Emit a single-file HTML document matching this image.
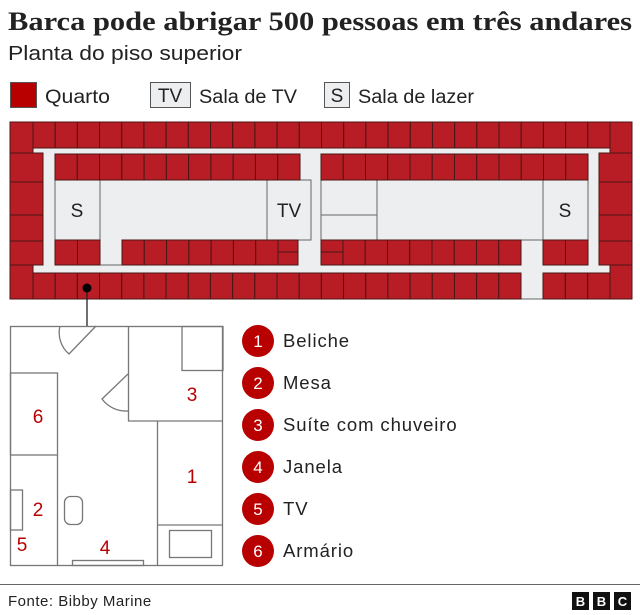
<!DOCTYPE html>
<html><head><meta charset="utf-8"><style>
body{margin:0;background:#fff;width:640px;height:615px;overflow:hidden}
svg{display:block}
text{font-family:"Liberation Sans",sans-serif;fill:#222}
</style></head><body>
<svg id="s" width="640" height="615" xmlns="http://www.w3.org/2000/svg">
<text x="8" y="30" textLength="624" lengthAdjust="spacingAndGlyphs" style="font-family:'Liberation Serif',serif;font-weight:bold;font-size:26px">Barca pode abrigar 500 pessoas em três andares</text>
<text x="8" y="60" font-size="20" textLength="234" lengthAdjust="spacingAndGlyphs">Planta do piso superior</text>
<g>
<rect x="10.5" y="82.5" width="26" height="25" fill="#b80000" stroke="#555"/>
<text x="45" y="103" font-size="19" textLength="65" lengthAdjust="spacingAndGlyphs">Quarto</text>
<rect x="150.5" y="82.5" width="40" height="25" fill="#eceef0" stroke="#555"/>
<text x="170" y="102" font-size="19" text-anchor="middle">TV</text>
<text x="199" y="103" font-size="19" textLength="98" lengthAdjust="spacingAndGlyphs">Sala de TV</text>
<rect x="324.5" y="82.5" width="25" height="25" fill="#eceef0" stroke="#555"/>
<text x="337" y="102" font-size="19" text-anchor="middle">S</text>
<text x="358" y="103" font-size="19" textLength="116" lengthAdjust="spacingAndGlyphs">Sala de lazer</text>
</g>
<g id="ship">
<rect x="10" y="122" width="622" height="177" fill="#eceef0" stroke="#666"/>
<rect x="55" y="180" width="45" height="60" fill="#eceef0" stroke="#666"/>
<text x="77" y="217" font-size="19" text-anchor="middle">S</text>
<path d="M100 180H267V240H122V265H100Z" fill="#eceef0" stroke="#666"/>
<rect x="267" y="180" width="44" height="60" fill="#eceef0" stroke="#666"/>
<text x="289" y="217" font-size="19" text-anchor="middle">TV</text>
<rect x="321" y="180" width="56" height="35" fill="#eceef0" stroke="#666"/>
<rect x="321" y="215" width="56" height="25" fill="#eceef0" stroke="#666"/>
<path d="M377 180H543V240H377Z" fill="#eceef0" stroke="#666"/>
<rect x="543" y="180" width="45" height="60" fill="#eceef0" stroke="#666"/>
<text x="565" y="217" font-size="19" text-anchor="middle">S</text>
</g>
<g fill="none" stroke="#777" stroke-width="1.3">
<line x1="87" y1="288" x2="87" y2="326" stroke="#222"/>
<circle cx="87" cy="288" r="4.5" fill="#000" stroke="none"/>
<rect x="10.5" y="326.5" width="212" height="239"/>
<path d="M60 326A28 28 0 0 0 69 354L96 326"/>
<path d="M128.5 326V421H223"/>
<rect x="182" y="326.5" width="41" height="44"/>
<path d="M128 374L102 399A30 30 0 0 0 128 411"/>
<rect x="10.5" y="373" width="47" height="82"/>
<path d="M57.5 455V566"/>
<rect x="10.5" y="490" width="12" height="40"/>
<path d="M157.5 421V566M157 525H223"/>
<rect x="169.5" y="530.5" width="42" height="27"/>
<rect x="64.5" y="496.5" width="18" height="28" rx="6"/>
<rect x="72.5" y="560.5" width="71" height="5"/>
</g>
<g font-size="19">
<text x="38" y="423" text-anchor="middle" style="fill:#b80000">6</text>
<text x="192" y="401" text-anchor="middle" style="fill:#b80000">3</text>
<text x="192" y="483" text-anchor="middle" style="fill:#b80000">1</text>
<text x="38" y="516" text-anchor="middle" style="fill:#b80000">2</text>
<text x="22" y="551" text-anchor="middle" style="fill:#b80000">5</text>
<text x="105" y="554" text-anchor="middle" style="fill:#b80000">4</text>
</g>
<g id="key"></g>
<line x1="0" y1="584.5" x2="640" y2="584.5" stroke="#666"/>
<text x="8" y="606" font-size="15" letter-spacing="0.5">Fonte: Bibby Marine</text>
<g>
<rect x="572" y="592" width="17" height="18" fill="#111"/><rect x="593" y="592" width="17" height="18" fill="#111"/><rect x="614" y="592" width="17" height="18" fill="#111"/>
<text x="580.5" y="606" font-size="13" font-weight="bold" text-anchor="middle" style="fill:#fff">B</text>
<text x="601.5" y="606" font-size="13" font-weight="bold" text-anchor="middle" style="fill:#fff">B</text>
<text x="622.5" y="606" font-size="13" font-weight="bold" text-anchor="middle" style="fill:#fff">C</text>
</g>
</svg>
<script>
const keyNumbers=["1","2","3","4","5","6"];
const keyLabels=["Beliche","Mesa","Suíte com chuveiro","Janela","TV","Armário"];
const NS="http://www.w3.org/2000/svg";
const ship=document.getElementById('ship');
function cell(x,y,w,h){const r=document.createElementNS(NS,'rect');r.setAttribute('x',x);r.setAttribute('y',y);r.setAttribute('width',w);r.setAttribute('height',h);r.setAttribute('fill','#b81c24');r.setAttribute('stroke','#4a1616');r.setAttribute('stroke-width','1');


ship.appendChild(r);}
function row(x0,x1,y0,y1,n){const w=(x1-x0)/n;for(let i=0;i<n;i++)cell(x0+i*w,y0,w,y1-y0);}
row(33,610,122,148,26);
row(33,521,273,299,22);row(543,610,273,299,3);
cell(10,122,23,31);cell(610,122,22,31);cell(10,265,23,34);cell(610,265,22,34);
[[153,182],[182,215],[215,241],[241,265]].forEach(r=>{cell(10,r[0],33,r[1]-r[0]);cell(599,r[0],33,r[1]-r[0]);});
row(55,300,154,180,11);row(321,588,154,180,12);
row(55,100,240,265,2);row(122,278,240,265,7);
cell(278,240,20,12);cell(278,252,20,13);cell(321,240,22,12);cell(321,252,22,13);
row(343,521,240,265,8);row(543,588,240,265,2);
const labels=[...ship.querySelectorAll('text')];labels.forEach(t=>ship.appendChild(t));
const key=document.getElementById('key');
keyNumbers.forEach((n,i)=>{const y=341+i*42;
const c=document.createElementNS(NS,'circle');c.setAttribute('cx',258);c.setAttribute('cy',y);c.setAttribute('r',16);c.setAttribute('fill','#b80000');


key.appendChild(c);
const t=document.createElementNS(NS,'text');t.setAttribute('x',258);t.setAttribute('y',y+6);t.setAttribute('text-anchor','middle');t.setAttribute('font-size','17');t.style.fill='#fff';t.textContent=n;


key.appendChild(t);
const l=document.createElementNS(NS,'text');l.setAttribute('x',283);l.setAttribute('y',y+6);l.setAttribute('font-size','18.5');l.setAttribute('letter-spacing','0.9');l.textContent=keyLabels[i];


key.appendChild(l);});
</script>
</body></html>
